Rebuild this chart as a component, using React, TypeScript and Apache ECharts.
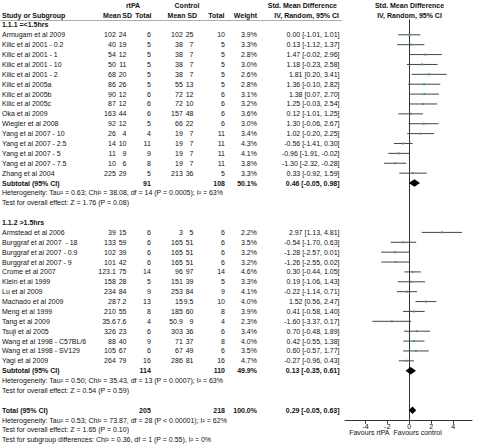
import React, { useEffect, useRef } from "react";
import * as echarts from "echarts";

// ---------- data ----------
const names1 = [
  "Armugam et al 2009", "Kilic et al 2001 - 0.2", "Kilic et al 2001 - 1", "Kilic et al 2001 - 10",
  "Kilic et al 2001 - 2", "Kilic et al 2005a", "Kilic et al 2005b", "Kilic et al 2005c",
  "Oka et al 2009", "Wiegler et al 2008", "Yang et al 2007 - 10", "Yang et al 2007 - 2.5",
  "Yang et al 2007 - 5", "Yang et al 2007 - 7.5", "Zhang et al 2004",
];
const rtMean1 = ["102", "40", "54", "50", "68", "86", "90", "87", "163", "92", "26", "14", "11", "10", "225"];
const rtSD1 = ["24", "19", "12", "11", "20", "26", "12", "12", "44", "12", "4", "10", "9", "6", "29"];
const rtN1 = [6, 5, 5, 5, 5, 5, 6, 6, 6, 5, 4, 11, 9, 8, 5];
const ctMean1 = ["102", "38", "38", "38", "38", "55", "72", "72", "157", "66", "19", "19", "19", "19", "213"];
const ctSD1 = ["25", "7", "7", "7", "7", "13", "12", "10", "48", "22", "7", "7", "7", "7", "36"];
const ctN1 = [10, 5, 5, 5, 5, 5, 6, 6, 6, 6, 11, 11, 11, 11, 5];
const weight1 = [3.9, 3.3, 2.8, 3.0, 2.6, 2.8, 3.1, 3.2, 3.6, 3.0, 3.4, 4.3, 4.1, 3.8, 3.3];
const smd1 = [0.0, 0.13, 1.47, 1.18, 1.81, 1.36, 1.38, 1.25, 0.12, 1.3, 1.02, -0.56, -0.96, -1.3, 0.33];
const lo1 = [-1.01, -1.12, -0.02, -0.23, 0.2, -0.1, 0.07, -0.03, -1.01, -0.06, -0.2, -1.41, -1.91, -2.32, -0.92];
const hi1 = [1.01, 1.37, 2.96, 2.58, 3.41, 2.82, 2.7, 2.54, 1.25, 2.67, 2.25, 0.3, -0.02, -0.28, 1.59];

const names2 = [
  "Armstead et al 2006", "Burggraf et al 2007  - 18", "Burggraf et al 2007 - 0.9", "Burggraf et al 2007 - 9",
  "Crome et al 2007", "Klein et al 1999", "Lu et al 2009", "Machado et al 2009", "Meng et al 1999",
  "Tang et al 2009", "Tsuji et al 2005", "Wang et al 1998 - C57BL/6", "Wang et al 1998 - SV129", "Yagi et al 2009",
];
const rtMean2 = ["39", "133", "102", "101", "123.1", "158", "234", "28", "210", "35.6", "326", "88", "105", "264"];
const rtSD2 = ["15", "59", "39", "42", "75", "28", "84", "7.2", "55", "7.6", "23", "40", "67", "79"];
const rtN2 = [6, 6, 6, 6, 14, 5, 9, 13, 8, 4, 6, 9, 6, 16];
const ctMean2 = ["3", "165", "165", "165", "96", "151", "253", "15", "185", "50.9", "303", "71", "67", "286"];
const ctSD2 = ["5", "51", "51", "51", "97", "39", "84", "9.5", "60", "9", "36", "37", "49", "81"];
const ctN2 = [6, 6, 6, 6, 14, 5, 9, 10, 8, 4, 6, 8, 6, 16];
const weight2 = [2.2, 3.5, 3.2, 3.2, 4.6, 3.3, 4.1, 4.0, 3.9, 2.3, 3.4, 4.0, 3.5, 4.7];
const smd2 = [2.97, -0.54, -1.28, -1.26, 0.3, 0.19, -0.22, 1.52, 0.41, -1.6, 0.7, 0.42, 0.6, -0.27];
const lo2 = [1.13, -1.7, -2.57, -2.55, -0.44, -1.06, -1.14, 0.56, -0.58, -3.37, -0.48, -0.55, -0.57, -0.96];
const hi2 = [4.81, 0.63, 0.01, 0.02, 1.05, 1.43, 0.71, 2.47, 1.4, 0.17, 1.89, 1.38, 1.77, 0.43];

// pooled: [subtotal1, subtotal2, total]
const pooledLabel = ["Subtotal (95% CI)", "Subtotal (95% CI)", "Total (95% CI)"];
const pooledRtN = [91, 114, 205];
const pooledCtN = [108, 110, 218];
const pooledWeight = [50.1, 49.9, 100.0];
const pooledSmd = [0.46, 0.13, 0.29];
const pooledLo = [-0.05, -0.35, -0.05];
const pooledHi = [0.98, 0.61, 0.63];

const groupTitles = ["1.1.1 =<1.5hrs", "1.1.2 >1.5hrs"];
const stats1 = [
  "Heterogeneity: Tau² = 0.63; Chi² = 38.08, df = 14 (P = 0.0005); I² = 63%",
  "Test for overall effect: Z = 1.76 (P = 0.08)",
];
const stats2 = [
  "Heterogeneity: Tau² = 0.50; Chi² = 35.43, df = 13 (P = 0.0007); I² = 63%",
  "Test for overall effect: Z = 0.54 (P = 0.59)",
];
const statsTotal = [
  "Heterogeneity: Tau² = 0.53; Chi² = 73.87, df = 28 (P < 0.00001); I² = 62%",
  "Test for overall effect: Z = 1.65 (P = 0.10)",
  "Test for subgroup differences: Chi² = 0.36, df = 1 (P = 0.55), I² = 0%",
];
const xTicks = [-4, -2, 0, 2, 4];
const favours = ["Favours rtPA", "Favours control"];

// ---------- layout ----------
const FONT = '"Liberation Sans", Arial, Helvetica, sans-serif';
const GRID_TOP = 20;
const GRID_H = 400.7;
const YMIN = -1.5;
const YMAX = 39.06;
const rowY = (k: number) => GRID_TOP + ((k - YMIN) / (YMAX - YMIN)) * GRID_H;

const COL = {
  name: 2, rtMean: 115.8, rtSD: 126.5, rtN: 150.8, ctMean: 182.8, ctSD: 193.5, ctN: 225,
  weight: 257, ci: 339.5,
};

const fmtCI = (e: number, l: number, h: number) => `${e.toFixed(2)} [${l.toFixed(2)}, ${h.toFixed(2)}]`;

function txt(text: string, x: number, y: number, align = "left", bold = false) {
  return {
    type: "text",
    x,
    y,
    silent: true,
    style: {
      text,
      fill: "#111",
      font: `${bold ? "bold " : ""}7px ${FONT}`,
      fontFamily: FONT,
      fontSize: 7,
      fontWeight: bold ? "bold" : "normal",
      align,
      verticalAlign: "middle",
    },
  };
}

export default function App() {
  const ref = useRef<HTMLDivElement>(null);
  useEffect(() => {
    if (!ref.current) return;
    const chart = echarts.init(ref.current, undefined, { renderer: "svg" });

    const studyRows: any[] = [];
    const groups = [
      { names: names1, rm: rtMean1, rs: rtSD1, rn: rtN1, cm: ctMean1, cs: ctSD1, cn: ctN1, w: weight1, e: smd1, l: lo1, h: hi1, start: 0 },
      { names: names2, rm: rtMean2, rs: rtSD2, rn: rtN2, cm: ctMean2, cs: ctSD2, cn: ctN2, w: weight2, e: smd2, l: lo2, h: hi2, start: 20 },
    ];
    const g: any[] = [];
    // headers
    g.push(txt("rtPA", 133, 5, "center", true));
    g.push(txt("Control", 187, 5, "center", true));
    g.push(txt("Std. Mean Difference", 337, 5, "right", true));
    g.push(txt("Std. Mean Difference", 409.5, 5, "center", true));
    g.push(txt("Study or Subgroup", COL.name, 15.5, "left", true));
    g.push(txt("Mean", 121, 15.5, "right", true));
    g.push(txt("SD", 132, 15.5, "right", true));
    g.push(txt("Total", 151.5, 15.5, "right", true));
    g.push(txt("Mean", 185.5, 15.5, "right", true));
    g.push(txt("SD", 197, 15.5, "right", true));
    g.push(txt("Total", 224.5, 15.5, "right", true));
    g.push(txt("Weight", COL.weight, 15.5, "right", true));
    g.push(txt("IV, Random, 95% CI", 339, 15.5, "right", true));
    g.push(txt("IV, Random, 95% CI", 409.5, 15.5, "center", true));
    g.push({ type: "line", silent: true, shape: { x1: 0, y1: 20.5, x2: 342, y2: 20.5 }, style: { stroke: "#777", lineWidth: 0.6 } });

    groups.forEach((gr, gi) => {
      g.push(txt(groupTitles[gi], COL.name, rowY(gr.start - 1), "left", true));
      gr.names.forEach((n, i) => {
        const k = gr.start + i;
        const y = rowY(k);
        g.push(txt(n, COL.name, y));
        g.push(txt(gr.rm[i], COL.rtMean, y, "right"));
        g.push(txt(gr.rs[i], COL.rtSD, y, "right"));
        g.push(txt(String(gr.rn[i]), COL.rtN, y, "right"));
        g.push(txt(gr.cm[i], COL.ctMean, y, "right"));
        g.push(txt(gr.cs[i], COL.ctSD, y, "right"));
        g.push(txt(String(gr.cn[i]), COL.ctN, y, "right"));
        g.push(txt(`${gr.w[i].toFixed(1)}%`, COL.weight, y, "right"));
        g.push(txt(fmtCI(gr.e[i], gr.l[i], gr.h[i]), COL.ci, y, "right"));
        studyRows.push([gr.e[i], k, gr.l[i], gr.h[i], gr.w[i]]);
      });
      const st = gi === 0 ? stats1 : stats2;
      const kSub = gr.start + gr.names.length;
      st.forEach((s, j) => g.push(txt(s, COL.name, rowY(kSub + 1 + j))));
    });

    const pooledK = [15, 34, 38];
    const pooledRows: any[] = [];
    pooledK.forEach((k, i) => {
      const y = rowY(k);
      g.push(txt(pooledLabel[i], COL.name, y, "left", true));
      g.push(txt(String(pooledRtN[i]), COL.rtN, y, "right", true));
      g.push(txt(String(pooledCtN[i]), COL.ctN, y, "right", true));
      g.push(txt(`${pooledWeight[i].toFixed(1)}%`, COL.weight, y, "right", true));
      g.push(txt(fmtCI(pooledSmd[i], pooledLo[i], pooledHi[i]), COL.ci, y, "right", true));
      pooledRows.push([pooledSmd[i], k, pooledLo[i], pooledHi[i]]);
    });
    statsTotal.forEach((s, j) => g.push(txt(s, COL.name, rowY(39 + j))));

    g.push(txt(favours[0], 389.5, 432.3, "right"));
    g.push(txt(favours[1], 393.5, 432.3, "left"));

    chart.setOption({
      animation: false,
      backgroundColor: "#fff",
      grid: { left: 345, width: 127, top: GRID_TOP, height: GRID_H, containLabel: false, outerBoundsMode: "none" },
      xAxis: {
        type: "value",
        min: -5.87,
        max: 5.72,
        position: "bottom",
        axisLine: { onZero: false, lineStyle: { color: "#333", width: 1 } },
        axisTick: { show: true, length: 3, customValues: xTicks, lineStyle: { color: "#333" } },
        axisLabel: { customValues: xTicks, fontSize: 7, fontFamily: FONT, color: "#111", margin: 2 },
        splitLine: { show: false },
      },
      yAxis: {
        type: "value",
        inverse: true,
        min: YMIN,
        max: YMAX,
        axisLine: { show: true, onZero: true, lineStyle: { color: "#333", width: 1 } },
        axisTick: { show: false },
        axisLabel: { show: false },
        splitLine: { show: false },
      },
      series: [
        {
          type: "custom",
          data: studyRows,
          clip: false,
          renderItem: (params: any, api: any) => {
            const k = api.value(1);
            const a = api.coord([api.value(2), k]);
            const b = api.coord([api.value(3), k]);
            const c = api.coord([api.value(0), k]);
            return {
              type: "group",
              children: [
                { type: "line", shape: { x1: a[0], y1: a[1], x2: b[0], y2: b[1] }, style: { stroke: "#444", lineWidth: 1 } },
                { type: "rect", shape: { x: c[0] - 1, y: c[1] - 1, width: 2, height: 2 }, style: { fill: "#3aa84a" } },
              ],
            };
          },
        },
        {
          type: "custom",
          data: pooledRows,
          clip: false,
          renderItem: (params: any, api: any) => {
            const k = api.value(1);
            const a = api.coord([api.value(2), k]);
            const b = api.coord([api.value(3), k]);
            const c = api.coord([api.value(0), k]);
            return {
              type: "polygon",
              shape: { points: [[a[0], a[1]], [c[0], c[1] - 3.8], [b[0], b[1]], [c[0], c[1] + 3.8]] },
              style: { fill: "#000" },
            };
          },
        },
      ],
      graphic: { elements: g },
    });
    return () => chart.dispose();
  }, []);
  return <div ref={ref} style={{ position: "fixed", left: 0, top: 0, width: 480, height: 445, background: "#fff" }} />;
}
